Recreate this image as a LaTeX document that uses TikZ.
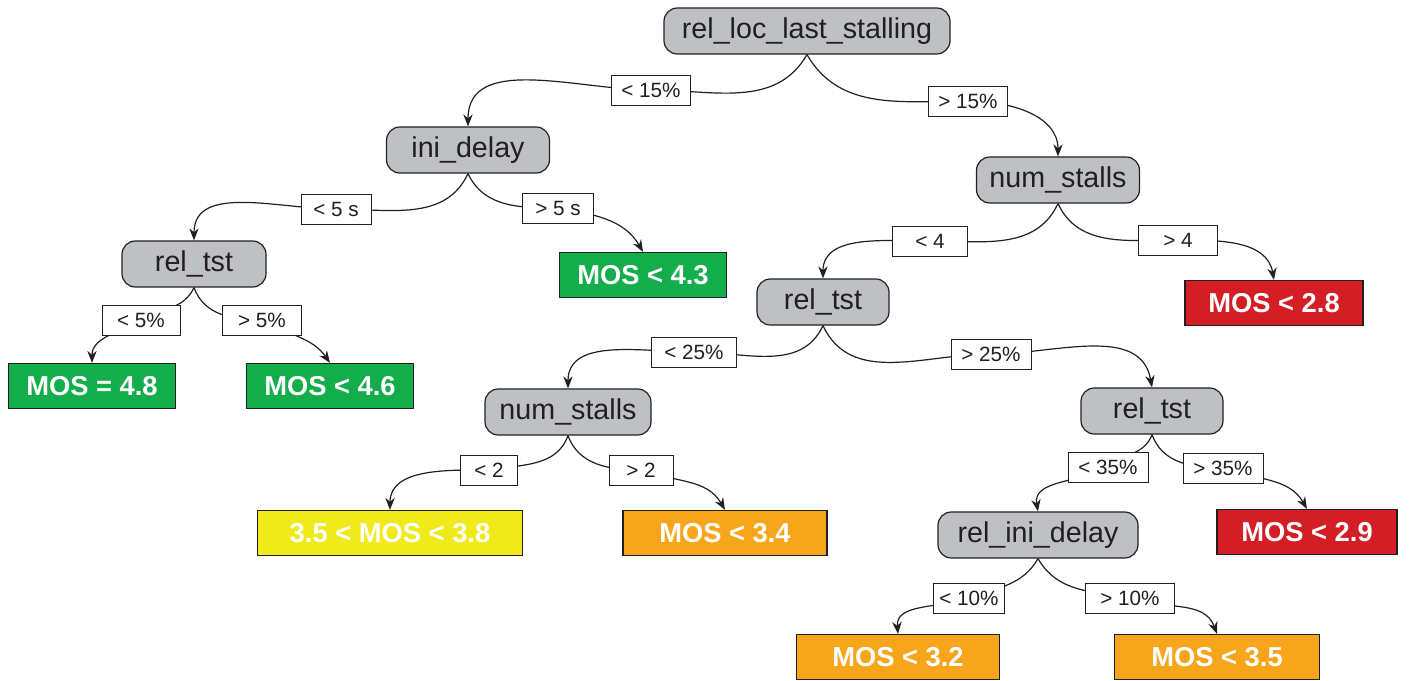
\documentclass[tikz,border=0pt]{standalone}
\usepackage{fontspec}
\setmainfont{Liberation Sans}
\usetikzlibrary{arrows.meta,backgrounds}
\definecolor{gfill}{RGB}{191,192,196}
\definecolor{mgreen}{RGB}{20,173,76}
\definecolor{myellow}{RGB}{240,234,26}
\definecolor{morange}{RGB}{247,166,28}
\definecolor{mred}{RGB}{212,30,38}
\definecolor{dline}{RGB}{35,31,32}
\begin{document}
\begin{tikzpicture}[x=0.75pt,y=0.75pt,
 gnode/.style={draw=dline, fill=gfill, rounded corners=10pt, line width=0.9pt, minimum height=46*0.75pt, font=\fontsize{21.5}{24}\selectfont, text=dline, inner sep=0pt},
 leaf/.style={draw=dline, line width=0.9pt, minimum height=45*0.75pt, font=\fontsize{20.5}{24}\selectfont\bfseries, text=white, inner sep=0pt},
 lab/.style={draw=dline, fill=white, line width=0.6pt, minimum height=30*0.75pt, font=\fontsize{15.5}{18}\selectfont, text=dline, inner sep=0pt},
 edge/.style={line width=0.9pt, draw=dline},
 arr/.style={edge, -{Stealth[length=9pt,width=7pt]}}]
\useasboundingbox (0,0) rectangle (1411,-681);
% decision nodes
\node[gnode, minimum width=286*0.75pt] (root) at (807,-31) {rel\_loc\_last\_stalling};
\node[gnode, minimum width=163*0.75pt] (ini) at (468,-150) {ini\_delay};
\node[gnode, minimum width=163*0.75pt] (ns1) at (1058,-180) {num\_stalls};
\node[gnode, minimum width=144*0.75pt] (rt1) at (194,-264) {rel\_tst};
\node[gnode, minimum width=132*0.75pt] (rt2) at (823,-302) {rel\_tst};
\node[gnode, minimum width=166*0.75pt] (ns2) at (568,-412) {num\_stalls};
\node[gnode, minimum width=142*0.75pt] (rt3) at (1152,-411) {rel\_tst};
\node[gnode, minimum width=200*0.75pt] (rid) at (1038,-535) {rel\_ini\_delay};
% leaves
\node[leaf, fill=mgreen, minimum width=167*0.75pt] (m43) at (643,-275) {MOS < 4.3};
\node[leaf, fill=mred, minimum width=178*0.75pt] (m28) at (1274,-303) {MOS < 2.8};
\node[leaf, fill=mgreen, minimum width=167*0.75pt] (m48) at (92,-386) {MOS = 4.8};
\node[leaf, fill=mgreen, minimum width=167*0.75pt] (m46) at (330,-386) {MOS < 4.6};
\node[leaf, fill=myellow, minimum width=265*0.75pt] (m38) at (390,-533) {3.5 < MOS < 3.8};
\node[leaf, fill=morange, minimum width=204*0.75pt] (m34) at (725,-533) {MOS < 3.4};
\node[leaf, fill=mred, minimum width=180*0.75pt] (m29) at (1307,-532) {MOS < 2.9};
\node[leaf, fill=morange, minimum width=203*0.75pt] (m32) at (898,-657) {MOS < 3.2};
\node[leaf, fill=morange, minimum width=205*0.75pt] (m35) at (1217,-657) {MOS < 3.5};
% labels
\node[lab, minimum width=79*0.75pt] (l1) at (651,-90) {< 15\%};
\node[lab, minimum width=79*0.75pt] (l2) at (968,-101) {> 15\%};
\node[lab, minimum width=70*0.75pt] (l3) at (336,-209) {< 5 s};
\node[lab, minimum width=71*0.75pt] (l4) at (558,-208) {> 5 s};
\node[lab, minimum width=75*0.75pt] (l5) at (930,-241) {< 4};
\node[lab, minimum width=79*0.75pt] (l6) at (1178,-240) {> 4};
\node[lab, minimum width=78*0.75pt] (l7) at (141,-320) {< 5\%};
\node[lab, minimum width=79*0.75pt] (l8) at (262,-320) {> 5\%};
\node[lab, minimum width=85*0.75pt] (l9) at (694,-352) {< 25\%};
\node[lab, minimum width=80*0.75pt] (l10) at (991,-354) {> 25\%};
\node[lab, minimum width=57*0.75pt] (l11) at (489,-470) {< 2};
\node[lab, minimum width=64*0.75pt] (l12) at (641,-470) {> 2};
\node[lab, minimum width=80*0.75pt] (l13) at (1108,-467) {< 35\%};
\node[lab, minimum width=80*0.75pt] (l14) at (1223,-468) {> 35\%};
\node[lab, minimum width=71*0.75pt] (l15) at (969,-598) {< 10\%};
\node[lab, minimum width=89*0.75pt] (l16) at (1130,-598) {> 10\%};
% edges
\begin{pgfonlayer}{background}
\draw[edge] (root.south) to[out=-120,in=0] (l1.center);
\draw[arr] (l1.center) to[out=180,in=90] (ini.north);
\draw[edge] (root.south) to[out=-60,in=180] (l2.center);
\draw[arr] (l2.center) to[out=0,in=90] (ns1.north);
\draw[edge] (ini.south) to[out=-115,in=0] (l3.center);
\draw[arr] (l3.center) to[out=180,in=90] (rt1.north);
\draw[edge] (ini.south) to[out=-65,in=180] (l4.center);
\draw[arr] (l4.center) to[out=-10,in=120] (m43.north);
\draw[edge] (ns1.south) to[out=-115,in=0] (l5.center);
\draw[arr] (l5.center) to[out=180,in=90] (rt2.north);
\draw[edge] (ns1.south) to[out=-65,in=180] (l6.center);
\draw[arr] (l6.center) to[out=0,in=100] (m28.north);
\draw[edge] (rt1.south) to[out=-115,in=30] (l7.center);
\draw[arr] (l7.center) to[out=-150,in=90] (m48.north);
\draw[edge] (rt1.south) to[out=-70,in=180] (l8.center);
\draw[arr] (l8.center) to[out=-30,in=125] (m46.north);
\draw[edge] (rt2.south) to[out=-115,in=0] (l9.center);
\draw[arr] (l9.center) to[out=180,in=90] (ns2.north);
\draw[edge] (rt2.south) to[out=-65,in=180] (l10.center);
\draw[arr] (l10.center) to[out=0,in=100] (rt3.north);
\draw[edge] (ns2.south) to[out=-110,in=10] (l11.center);
\draw[arr] (l11.center) to[out=180,in=90] (m38.north);
\draw[edge] (ns2.south) to[out=-70,in=180] (l12.center);
\draw[arr] (l12.center) to[out=-20,in=120] (m34.north);
\draw[edge] (rt3.south) to[out=-110,in=40] (l13.center);
\draw[arr] (l13.center) to[out=-150,in=100] (rid.north);
\draw[edge] (rt3.south) to[out=-70,in=180] (l14.center);
\draw[arr] (l14.center) to[out=-20,in=120] (m29.north);
\draw[edge] (rid.south) to[out=-120,in=20] (l15.center);
\draw[arr] (l15.center) to[out=-160,in=95] (m32.north);
\draw[edge] (rid.south) to[out=-60,in=170] (l16.center);
\draw[arr] (l16.center) to[out=-20,in=110] (m35.north);
\end{pgfonlayer}
\end{tikzpicture}
\end{document}
